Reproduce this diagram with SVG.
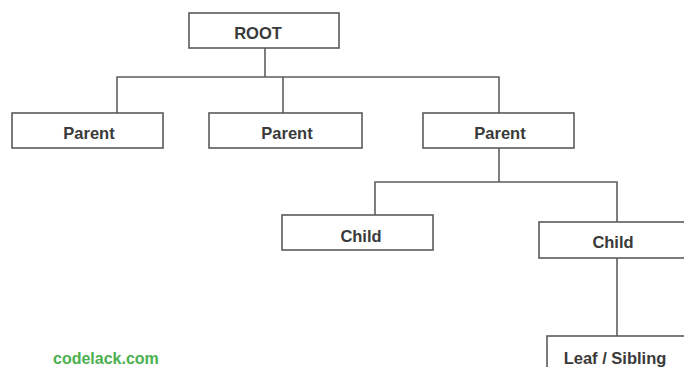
<svg xmlns="http://www.w3.org/2000/svg" width="684" height="367" viewBox="0 0 684 367">
  <style>
    .box { fill: #ffffff; stroke: #5a5a5a; stroke-width: 1.6; }
    .wire { fill: none; stroke: #5e5e5e; stroke-width: 1.6; }
    .lbl { font-family: "Liberation Sans", Arial, sans-serif; font-weight: bold; font-size: 16.5px; fill: #3a3a3a; text-anchor: middle; }
    .brand { font-family: "Liberation Sans", Arial, sans-serif; font-weight: bold; font-size: 16px; fill: #4cb050; }
  </style>
  <rect width="684" height="367" fill="#ffffff"/>

  <!-- tree connectors -->
  <g id="connectors">
    <path class="wire" d="M265 48 V77"/>
    <path class="wire" d="M117 113 V77 H499 V113"/>
    <path class="wire" d="M283 77 V113"/>
    <path class="wire" d="M499 148 V182"/>
    <path class="wire" d="M375 215 V182 H617 V222"/>
    <path class="wire" d="M617 258 V336"/>
  </g>

  <g id="root">
    <rect class="box" x="189" y="13" width="150" height="35"/>
    <text class="lbl" x="258" y="39">ROOT</text>
  </g>

  <g id="parent-1">
    <rect class="box" x="12" y="113" width="151" height="35"/>
    <text class="lbl" x="89" y="139">Parent</text>
  </g>

  <g id="parent-2">
    <rect class="box" x="209" y="113" width="153" height="35"/>
    <text class="lbl" x="287" y="139">Parent</text>
  </g>

  <g id="parent-3">
    <rect class="box" x="423" y="113" width="151" height="35"/>
    <text class="lbl" x="500" y="139">Parent</text>
  </g>

  <g id="child-1">
    <rect class="box" x="282" y="215" width="151" height="35"/>
    <text class="lbl" x="361" y="242">Child</text>
  </g>

  <g id="child-2">
    <rect class="box" x="539" y="222" width="160" height="36"/>
    <text class="lbl" x="613" y="248">Child</text>
  </g>

  <g id="leaf">
    <rect class="box" x="547" y="336" width="160" height="40"/>
    <text class="lbl" x="615" y="364">Leaf / Sibling</text>
  </g>

  <text class="brand" x="53" y="364">codelack.com</text>
</svg>
